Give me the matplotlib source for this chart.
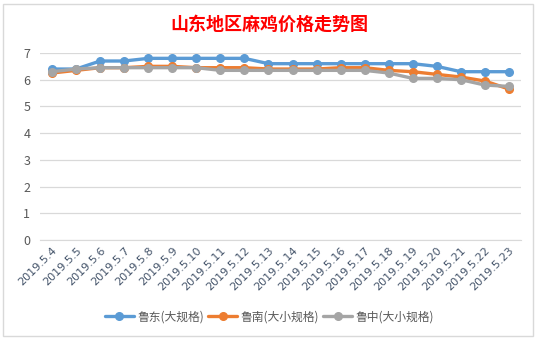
import matplotlib
matplotlib.use("Agg")
import matplotlib.pyplot as plt
from matplotlib.patches import Rectangle

plt.rcParams['font.family'] = ['Noto Sans CJK SC', 'DejaVu Sans']

dates = ["2019.5.4", "2019.5.5", "2019.5.6", "2019.5.7", "2019.5.8", "2019.5.9",
         "2019.5.10", "2019.5.11", "2019.5.12", "2019.5.13", "2019.5.14", "2019.5.15",
         "2019.5.16", "2019.5.17", "2019.5.18", "2019.5.19", "2019.5.20", "2019.5.21",
         "2019.5.22", "2019.5.23"]
ludong = [6.4, 6.4, 6.7, 6.7, 6.8, 6.8, 6.8, 6.8, 6.8, 6.6, 6.6, 6.6,
          6.6, 6.6, 6.6, 6.6, 6.5, 6.3, 6.3, 6.3]
lunan = [6.25, 6.35, 6.45, 6.45, 6.5, 6.5, 6.45, 6.45, 6.45, 6.4, 6.4, 6.4,
         6.45, 6.45, 6.35, 6.3, 6.2, 6.1, 5.95, 5.65]
luzhong = [6.3, 6.4, 6.45, 6.45, 6.45, 6.45, 6.45, 6.35, 6.35, 6.35, 6.35, 6.35,
           6.35, 6.35, 6.25, 6.05, 6.05, 6.0, 5.8, 5.75]
series_names = ["鲁东(大规格)", "鲁南(大小规格)", "鲁中(大小规格)"]
colors = ["#5B9BD5", "#ED7D31", "#A5A5A5"]
title = "山东地区麻鸡价格走势图"

fig = plt.figure(figsize=(5.39, 3.39), dpi=100)
W, H = 539, 339
ax = fig.add_axes([40 / W, 1 - 240 / H, 481 / W, (240 - 53) / H])

x = list(range(len(dates)))
for vals, name, c in zip([ludong, lunan, luzhong], series_names, colors):
    ax.plot(x, vals, color=c, lw=2.4, marker='o', ms=5.5, label=name,
            solid_capstyle='round')

ax.set_xlim(-0.5, len(dates) - 0.5)
ax.set_ylim(0, 7)
ax.set_yticks(range(0, 8))
ax.yaxis.grid(True, color="#D9D9D9", lw=0.9)
ax.set_axisbelow(True)
for s in ['top', 'right', 'left']:
    ax.spines[s].set_visible(False)
ax.spines['bottom'].set_color("#D9D9D9")
ax.tick_params(axis='both', length=0, colors="#595959", labelsize=8)
ax.tick_params(axis='y', pad=7, labelsize=9)
ax.set_xticks(x)
ax.set_xticklabels(dates, rotation=45, ha='right', rotation_mode='anchor',
                   fontsize=8, color="#44546A", family=['DejaVu Sans'])
ax.tick_params(axis='x', pad=4)

fig.text(0.5, 1 - 24 / H, title, ha='center', va='center', color='red',
         fontsize=13, fontweight='bold')

leg = fig.legend(loc='center', bbox_to_anchor=(0.5, 1 - 317 / H), ncol=3,
                 frameon=False, fontsize=8.5, handlelength=2.5, columnspacing=0.3,
                 handletextpad=0.3, labelcolor="#595959")

fig.patches.append(Rectangle((3 / W, 3 / H), 530 / W, 332 / H, transform=fig.transFigure,
                             fill=False, edgecolor="#D9D9D9", lw=1))

fig.savefig("out.png", dpi=100)
